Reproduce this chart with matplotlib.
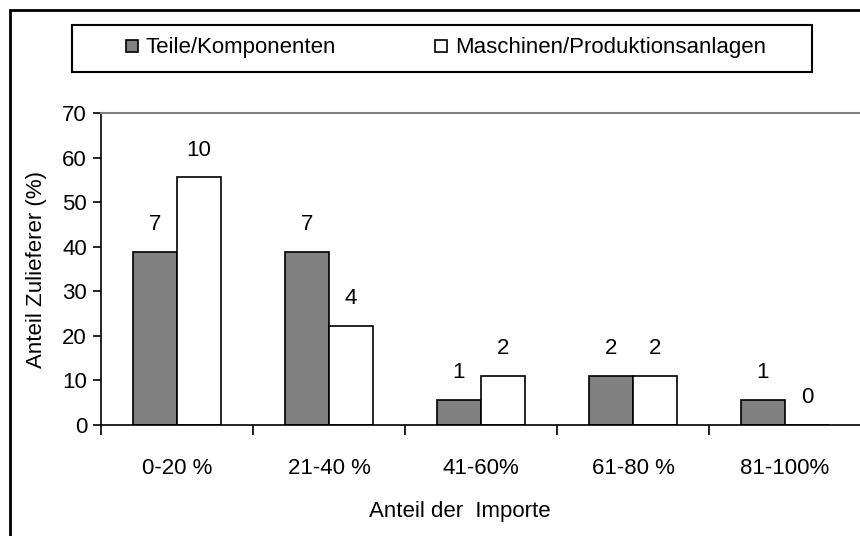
import matplotlib.pyplot as plt
from matplotlib.lines import Line2D
from matplotlib.patches import Rectangle
import numpy as np

plt.rcParams['font.family'] = ['Liberation Sans', 'DejaVu Sans']

# Daten
kategorien = ['0-20 %', '21-40 %', '41-60%', '61-80 %', '81-100%']
teile_prozent = [38.9, 38.9, 5.6, 11.1, 5.6]
maschinen_prozent = [55.6, 22.2, 11.1, 11.1, 0.0]
teile_anzahl = [7, 7, 1, 2, 1]
maschinen_anzahl = [10, 4, 2, 2, 0]
y_ticks = [0, 10, 20, 30, 40, 50, 60, 70]

fs = 16

fig = plt.figure(figsize=(8.6, 5.36), dpi=100)
ax = fig.add_axes([101 / 860, 111 / 536, 760 / 860, 312 / 536])

x = np.arange(len(kategorien))
w = 0.29
ax.bar(x - w / 2, teile_prozent, w, color='#808080', edgecolor='black', linewidth=1.2)
ax.bar(x + w / 2, maschinen_prozent, w, color='white', edgecolor='black', linewidth=1.2)

# Datenbeschriftungen (Anzahl)
for xi, h, n in zip(x, teile_prozent, teile_anzahl):
    ax.annotate(str(n), (xi - w / 2, h), xytext=(0, 12), textcoords='offset points',
                ha='center', va='bottom', fontsize=fs)
for xi, h, n in zip(x, maschinen_prozent, maschinen_anzahl):
    ax.annotate(str(n), (xi + w / 2, h), xytext=(0, 12), textcoords='offset points',
                ha='center', va='bottom', fontsize=fs)

ax.set_xlim(-0.5, len(kategorien) - 0.5)
ax.set_ylim(0, 70)
ax.set_yticks(y_ticks)
ax.set_xticks(x)
ax.set_xticklabels(kategorien)
ax.set_xticks(np.arange(-0.5, len(kategorien)), minor=True)
ax.tick_params(axis='x', which='major', length=0, pad=24, labelsize=fs)
ax.tick_params(axis='x', which='minor', length=7, width=1.2, direction='out')
ax.tick_params(axis='y', length=6, width=1.2, direction='out', labelsize=fs, pad=4)

ax.spines['top'].set_color('#808080')
ax.spines['top'].set_linewidth(1.5)
ax.spines['right'].set_visible(False)
ax.spines['left'].set_linewidth(1.2)
ax.spines['bottom'].set_linewidth(1.2)

ax.set_ylabel('Anteil Zulieferer (%)', fontsize=fs, labelpad=11)
fig.text(460 / 860, 1 - 512 / 536, 'Anteil der  Importe', ha='center', va='center', fontsize=fs)

# Legende
fig.patches.append(Rectangle((72 / 860, 1 - 72 / 536), 740 / 860, 47 / 536, transform=fig.transFigure,
                             fill=False, edgecolor='black', linewidth=1.5))
handles = [
    Line2D([], [], marker='s', linestyle='none', markersize=9, markerfacecolor='#808080',
           markeredgecolor='black', markeredgewidth=1.2),
    Line2D([], [], marker='s', linestyle='none', markersize=9, markerfacecolor='white',
           markeredgecolor='black', markeredgewidth=1.2),
]
fig.legend(handles, ['Teile/Komponenten', 'Maschinen/Produktionsanlagen'], ncol=2,
           loc='center', bbox_to_anchor=(445 / 860, 1 - 48 / 536),
           fontsize=fs, frameon=False, handletextpad=0.25, columnspacing=4.4,
           handlelength=0.7, borderaxespad=0)

# Rahmen um das Diagramm
fig.patches.append(Rectangle((10 / 860, -0.1), 1.2, 1.1 - 10 / 536, transform=fig.transFigure,
                             fill=False, edgecolor='black', linewidth=2))

fig.savefig('out.png', dpi=100)
